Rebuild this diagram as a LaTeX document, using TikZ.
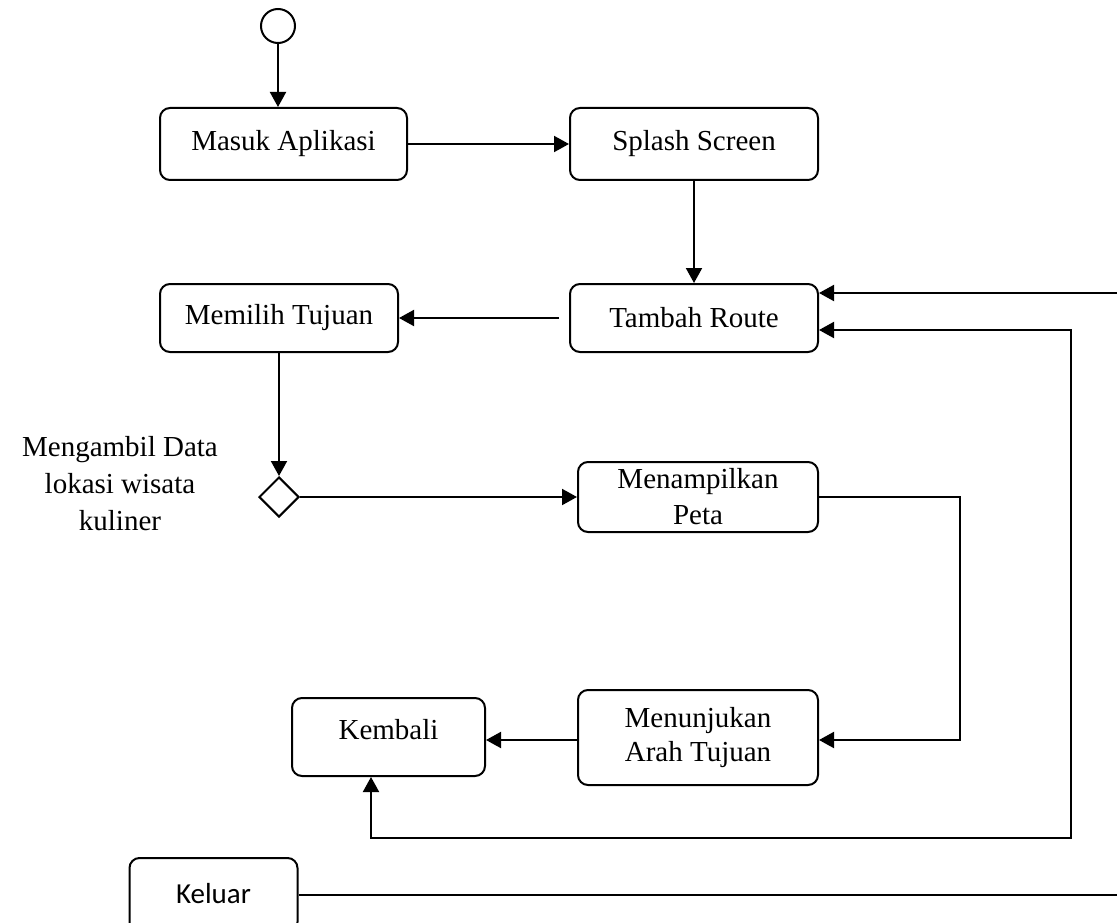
\documentclass[tikz,border=0pt]{standalone}
\usepackage{fontspec}
\setmainfont{Liberation Serif}
\newfontfamily\keluarfont{Carlito}
\usetikzlibrary{shapes.geometric,arrows.meta}
\begin{document}
\begin{tikzpicture}[x=1pt,y=-1pt,
  box/.style={draw,line width=2pt,rounded corners=10pt,align=center,inner sep=0pt,
    font=\fontsize{29}{37}\selectfont},
  tip/.style={-{Triangle[length=15pt,width=16pt]}},
  conn/.style={line width=2pt,tip},
  line/.style={line width=2pt}]
\clip (0,0) rectangle (1117,923);
\fill[white] (0,0) rectangle (1117,923);
% start
\node[circle,draw,line width=2pt,minimum size=34pt,inner sep=0pt] (start) at (278,26) {};
% activities
\node[box,minimum width=247pt,minimum height=72pt] (masuk) at (283.5,144) {Masuk Aplikasi};
\node[box,minimum width=248pt,minimum height=72pt] (splash) at (694,144) {Splash Screen};
\node[box,minimum width=248pt,minimum height=68pt] (tambah) at (694,318) {Tambah Route};
\node[box,minimum width=238pt,minimum height=68pt] (memilih) at (279,318) {Memilih Tujuan};
\node[diamond,draw,line width=2pt,minimum width=40pt,minimum height=40pt,inner sep=0pt] (dia) at (279,497) {};
\node[align=center,font=\fontsize{29}{37}\selectfont] (lbl) at (120,484) {Mengambil Data\\lokasi wisata\\kuliner};
\node[box,minimum width=240pt,minimum height=70pt] (peta) at (698,497) {Menampilkan\\[-1pt]Peta};
\node[box,minimum width=240pt,minimum height=95pt] (tunjuk) at (698,737.5) {Menunjukan\\[-3pt]Arah Tujuan};
\node[box,minimum width=193pt,minimum height=78pt] (kembali) at (388.5,737) {\raisebox{16pt}{Kembali}};
\node[box,minimum width=168pt,minimum height=74pt,font=\keluarfont\fontsize{29}{37}\selectfont] (keluar) at (213.5,895) {\raisebox{4pt}{Keluar}};
% helper coordinates
\coordinate (r1) at (960,497);
\coordinate (b1) at (1071,838);
\coordinate (r2) at (1135,293);
\coordinate (tw) at ([yshift=-2.5pt]tunjuk.west);
\coordinate (te) at ([yshift=-2.5pt]tunjuk.east);
\coordinate (ta) at ([yshift=-12pt]tambah.east);
\coordinate (tl) at ([xshift=-10pt]tambah.west);
\coordinate (kb) at ([xshift=-17.5pt]kembali.south);
% connectors
\draw[conn] (start) -- (start |- masuk.north);
\draw[conn] (masuk) -- (splash);
\draw[conn] (splash) -- (tambah);
\draw[conn] (tl) -- (memilih.east);
\draw[conn] (memilih) -- (dia);
\draw[conn] (dia.east) -- (peta.west);
\draw[conn] (peta.east) -- (r1) |- (te);
\draw[conn] (tw) -- (kembali.east |- tw);
\draw[line width=2pt,{Triangle[length=15pt,width=16pt]}-{Triangle[length=15pt,width=16pt]}]
  (kb) |- (b1) |- (ta);
\draw[conn] (keluar.east) -- (keluar.east -| r2) -- (r2) -- (r2 -| tambah.east);
\end{tikzpicture}
\end{document}
